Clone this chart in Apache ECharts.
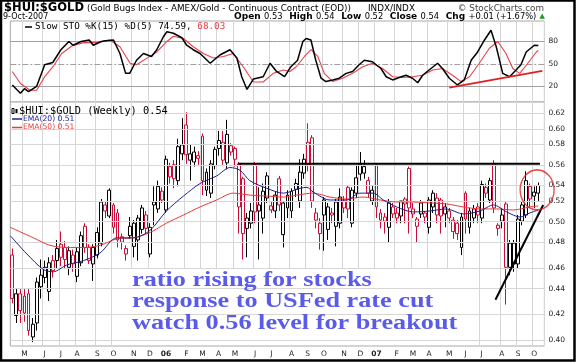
<!DOCTYPE html>
<html><head><meta charset="utf-8">
<script src="https://cdn.jsdelivr.net/npm/echarts@6/dist/echarts.min.js"></script>
<style>html,body{margin:0;padding:0;background:#fff}#c{width:576px;height:362px}</style>
</head><body><div id="c"></div>
<script>
// ---------- data (weekly candles, Apr 11 2005 .. Oct 8 2007) ----------
const firstWeek = '2005-04-11';
const opens = [
.470,.418,.436,.434,.436,.401,.412,.442,.450,.438,
.465,.465,.480,.477,.459,.470,.451,.463,.497,.477,
.462,.470,.481,.518,.507,.518,.510,.487,.471,.488,
.478,.484,.494,.508,.471,.521,.514,.523,.513,.558,
.560,.543,.572,.605,.565,.563,.570,.592,.533,.530,
.559,.578,.585,.562,.574,.578,.561,.545,.495,.500,
.560,.518,.505,.525,.513,.512,.545,.489,.515,.512,
.540,.522,.551,.585,.590,.510,.490,.523,.494,.510,
.497,.500,.515,.536,.500,.530,.561,.558,.543,.522,
.560,.503,.506,.496,.509,.510,.507,.524,.556,.509,
.497,.509,.510,.496,.516,.525,.523,.509,.512,.503,
.500,.477,.530,.496,.505,.516,.505,.530,.523,.561,
.495,.502,.519,.459,.462,.462,.502,.508,.537,.527,
.530];
const highs = [
.476,.440,.440,.440,.440,.416,.450,.466,.465,.468,
.470,.484,.492,.483,.478,.475,.477,.492,.500,.480,
.480,.496,.524,.522,.535,.520,.514,.490,.479,.506,
.503,.508,.518,.512,.500,.537,.543,.536,.570,.562,
.565,.589,.613,.620,.583,.580,.575,.595,.556,.565,
.580,.598,.598,.611,.584,.580,.563,.547,.510,.520,
.563,.536,.540,.552,.522,.532,.548,.522,.533,.535,
.545,.566,.572,.607,.593,.515,.505,.526,.520,.515,
.524,.535,.527,.538,.536,.560,.574,.565,.547,.538,
.562,.514,.510,.524,.520,.515,.522,.526,.558,.520,
.506,.523,.512,.526,.533,.530,.525,.520,.515,.506,
.503,.510,.532,.515,.518,.520,.543,.540,.546,.565,
.500,.515,.521,.484,.484,.508,.521,.553,.540,.537,
.541];
const lows = [
.428,.412,.412,.413,.402,.397,.406,.432,.445,.430,
.450,.458,.460,.458,.452,.455,.446,.460,.472,.462,
.447,.467,.478,.505,.505,.490,.477,.475,.465,.485,
.468,.465,.490,.490,.468,.498,.510,.520,.510,.540,
.535,.537,.565,.561,.543,.558,.560,.528,.527,.525,
.555,.570,.560,.555,.570,.558,.490,.466,.468,.495,
.500,.466,.490,.520,.510,.505,.512,.477,.505,.505,
.526,.515,.545,.553,.515,.495,.475,.474,.484,.500,
.478,.495,.510,.505,.496,.525,.543,.545,.525,.518,
.505,.495,.490,.482,.505,.500,.500,.500,.490,.505,
.482,.505,.500,.490,.510,.500,.490,.496,.500,.485,
.484,.470,.490,.490,.500,.500,.500,.525,.520,.510,
.488,.495,.427,.452,.455,.458,.498,.505,.515,.515,
.522];
const closes = [
.432,.436,.422,.420,.406,.411,.446,.452,.459,.463,
.456,.476,.468,.466,.474,.462,.473,.488,.477,.465,
.477,.491,.521,.512,.533,.496,.484,.482,.476,.497,
.500,.505,.515,.495,.496,.518,.537,.532,.566,.547,
.545,.580,.582,.571,.572,.574,.567,.543,.552,.561,
.577,.587,.565,.594,.581,.566,.516,.490,.505,.512,
.511,.512,.532,.548,.517,.528,.518,.520,.528,.532,
.534,.552,.566,.560,.522,.503,.500,.508,.516,.508,
.521,.526,.522,.514,.533,.546,.550,.551,.530,.533,
.516,.510,.502,.520,.516,.505,.522,.519,.515,.514,
.504,.520,.506,.523,.530,.508,.507,.516,.505,.492,
.490,.506,.504,.512,.514,.508,.539,.536,.543,.515,
.498,.508,.459,.481,.481,.504,.518,.543,.524,.531,
.538];
// moving averages: [week position, value]
const ema20 = [[-0.5,.488],[3.6,.471],[7.7,.457],[10.1,.455],[13.4,.461],[17.6,.465],[21.7,.472],[25.8,.486],[29.9,.486],[34,.493],[38.1,.512],[42.3,.527],[46.4,.540],[50.5,.548],[53.8,.557],[56.3,.554],[58.7,.543],[62.9,.535],[67,.530],[71.1,.535],[72.8,.536],[74.4,.531],[78.5,.523],[82.6,.523],[85.9,.530],[89.2,.530],[91.7,.523],[95,.516],[99.1,.511],[103.2,.512],[107.3,.514],[111.5,.509],[115.6,.512],[118.9,.518],[122.2,.511],[125.5,.506],[127.9,.510],[130,.513]];
const ema50 = [[-0.5,.496],[5.2,.486],[9.3,.479],[13.4,.477],[17.6,.477],[21.7,.479],[25.8,.485],[29.9,.486],[34,.491],[38.1,.500],[42.3,.508],[46.4,.516],[50.5,.523],[54.6,.530],[58.7,.528],[62.9,.527],[67,.526],[70.3,.528],[74.4,.530],[78.5,.526],[82.6,.524],[86.7,.526],[90.9,.523],[95,.521],[99.1,.521],[103.2,.520],[107.3,.519],[111.5,.516],[115.6,.514],[119.7,.514],[123.8,.513],[127.9,.516],[130,.517]];
// slow stochastics: [week position, value]
const stoK = [[0,22],[2,11],[3,17],[4,13],[6,20],[8,49],[10,52],[12,69],[14,80],[15,75],[17,80],[19,82],[20,75],[22,80],[23,81],[25,82],[26.6,64],[28,37.5],[29,37.5],[30.7,55],[32.4,64],[34.4,60],[35.7,69],[37.3,86],[38.2,93],[39.8,91],[41.9,85],[43.1,75],[44.7,69],[46.4,64],[48.9,51],[51.3,62],[53.8,69],[55.5,58],[56.7,33],[58,16],[59.6,30],[62,33],[63.7,51],[65.3,40],[67.3,33],[68.8,46],[70.5,55],[71.8,80],[72.6,84],[73.8,82],[75,55],[76.3,31],[77.5,26.5],[79.2,28.7],[80.8,31],[82.5,37.5],[84.1,40],[85.7,49],[87,55],[89,53],[91.1,44],[92.4,33],[94,28.7],[95.6,32],[97.3,35],[98.9,31],[100.2,25],[101.4,35],[103,42],[105.1,51],[106.3,44],[108,31],[110,22],[111.7,28.7],[113.4,55],[115,66],[116.7,82],[118.3,95],[119.6,73],[121.2,37.5],[122.9,33],[124.5,42],[125.7,49],[127,66],[129,75],[130,74.59]];
const stoD = [[0,40],[2,24],[4.4,15],[6,15],[8,33],[10,46],[12.2,64],[14.7,74],[17.6,78.5],[20.9,78.5],[24.1,82],[26.6,73],[29.1,51],[30.7,49],[33.2,57.5],[35.7,66],[38.2,80],[39.8,87],[42.3,84],[44.7,73],[47.2,64],[49.7,58],[52.2,60],[54.6,64],[57.1,46],[59.6,26],[62,26],[64.5,37.5],[67,42],[68.6,40],[70.1,46],[72.2,60],[73.8,69],[75.5,60],[77.1,37.5],[79.2,26.5],[81.6,31],[84.1,37.5],[86.5,46],[89,51],[91.5,44],[94,33],[96.5,32],[98.9,33],[101.4,35],[103.9,42],[106.3,44],[108.8,35],[110.9,26.5],[113,33],[115.4,51],[117.9,71],[120,80],[122,64],[123.7,44],[125.4,37.5],[127.4,51],[129.5,66],[130,68.03]];
// annotations drawn on the chart
const resistance = [[55.8,0.561],[130.4,0.561]];
const riseLine = [[119.4,0.431],[131.2,0.518]];
const stoTrend = [[108,18.4],[131,40.7]];
const circleMark = [129.7,0.5334];
// tick labels
const priceTicks = [0.40,0.42,0.44,0.46,0.48,0.50,0.52,0.54,0.56,0.58,0.60,0.62];
const stoTicks = [80,50,20];
const monthInitials = ['J','F','M','A','M','J','J','A','S','O','N','D'];
const noteLines = ['ratio rising for stocks','response to USFed rate cut','watch 0.56 level for breakout'];

// ---------- build ----------
const L = Math.log;
const BLACK = '#000', RED = '#cc0c36';
const cats = [];
const d0 = new Date(firstWeek + 'T00:00:00Z');
for (let i = 0; i < opens.length + 1; i++) {
  cats.push(new Date(d0.getTime() + i * 7 * 86400000).toISOString().slice(0, 10));
}
const isMonthStart = (idx, val) => +String(val).slice(8, 10) <= 7;
const candleData = opens.map((o, i) => {
  const prev = i > 0 ? closes[i - 1] : o;
  const col = closes[i] >= prev ? BLACK : RED;
  return { value: [L(o), L(closes[i]), L(lows[i]), L(highs[i])],
    itemStyle: { color: '#fff', color0: col, borderColor: col, borderColor0: col, borderWidth: 1 } };
});
const lnPts = arr => arr.map(p => [p[0], L(p[1])]);
const AX_FONT = { fontSize: 7.5, fontFamily: 'DejaVu Sans', color: '#222' };
const gridLineLabel = Object.assign({ show: true, position: 'end', distance: 4 }, AX_FONT);

const chart = echarts.init(document.getElementById('c'));
const option = {
  animation: false,
  backgroundColor: '#fff',
  grid: [
    { left: 10.3, right: 31.6, top: 21, height: 81, show: true, borderColor: '#a8a8a8', borderWidth: 1, backgroundColor: '#fff' },
    { left: 10.3, right: 31.6, top: 102, height: 244, show: true, borderColor: '#a8a8a8', borderWidth: 1, backgroundColor: '#fff' }
  ],
  xAxis: [
    { type: 'category', gridIndex: 0, data: cats, axisLine: { show: false }, axisTick: { show: false }, axisLabel: { show: false },
      splitLine: { show: true, interval: isMonthStart, lineStyle: { color: '#d6d6d6', width: 1 } } },
    { type: 'category', gridIndex: 1, data: cats, axisLine: { show: false }, axisTick: { show: false },
      axisLabel: Object.assign({ show: true, interval: isMonthStart, margin: 4,
        formatter: v => { const m = +v.slice(5, 7); return m === 1 ? '{y|' + v.slice(2, 4) + '}' : monthInitials[m - 1]; },
        rich: { y: Object.assign({ fontWeight: 'bold' }, AX_FONT) } }, AX_FONT),
      splitLine: { show: true, interval: isMonthStart, lineStyle: { color: '#d6d6d6', width: 1 } } },
    { type: 'value', gridIndex: 0, min: -0.5, max: 131.5, show: false },
    { type: 'value', gridIndex: 1, min: -0.5, max: 131.5, show: false }
  ],
  yAxis: [
    { type: 'value', gridIndex: 0, min: -0.7, max: 107.3, show: false },
    { type: 'value', gridIndex: 1, min: L(0.3940), max: L(0.6325), show: false }
  ],
  series: [
    { type: 'line', xAxisIndex: 2, yAxisIndex: 0, data: [[0, 50]], symbol: 'none', lineStyle: { opacity: 0 }, z: 1, silent: true,
      markLine: { silent: true, symbol: 'none', animation: false, label: gridLineLabel,
        lineStyle: { color: '#a0a0a0', width: 1, type: 'solid' },
        data: stoTicks.map(t => ({ yAxis: t, label: { formatter: String(t) },
          lineStyle: t === 50 ? { type: [6, 2, 2, 2], color: '#a0a0a0' } : {} })) } },
    { type: 'line', xAxisIndex: 3, yAxisIndex: 1, data: [[0, L(0.5)]], symbol: 'none', lineStyle: { opacity: 0 }, z: 1, silent: true,
      markLine: { silent: true, symbol: 'none', animation: false, label: gridLineLabel,
        lineStyle: { color: '#d6d6d6', width: 1, type: 'solid' },
        data: priceTicks.map(t => ({ yAxis: L(t), label: { formatter: t.toFixed(2) } })) } },
    { type: 'candlestick', xAxisIndex: 1, yAxisIndex: 1, data: candleData, barWidth: 3.4, z: 4, silent: true },
    { type: 'line', xAxisIndex: 3, yAxisIndex: 1, data: lnPts(ema50), smooth: 0.3, symbol: 'none', z: 5, silent: true,
      lineStyle: { color: '#e83a3a', width: 1 } },
    { type: 'line', xAxisIndex: 3, yAxisIndex: 1, data: lnPts(ema20), smooth: 0.3, symbol: 'none', z: 5, silent: true,
      lineStyle: { color: '#202090', width: 1 } },
    { type: 'line', xAxisIndex: 3, yAxisIndex: 1, data: lnPts(resistance), symbol: 'none', z: 6, silent: true,
      lineStyle: { color: '#000', width: 2 } },
    { type: 'line', xAxisIndex: 3, yAxisIndex: 1, data: lnPts(riseLine), symbol: 'none', z: 6, silent: true,
      lineStyle: { color: '#000', width: 2 } },
    { type: 'scatter', xAxisIndex: 3, yAxisIndex: 1, data: [[circleMark[0], L(circleMark[1])]], symbol: 'circle',
      symbolSize: [34, 40], clip: false, z: 7, silent: true,
      itemStyle: { color: 'rgba(0,0,0,0)', borderColor: '#e02020', borderWidth: 1.5 } },
    { type: 'line', xAxisIndex: 2, yAxisIndex: 0, data: stoD, symbol: 'none', z: 5, silent: true,
      lineStyle: { color: '#e8404a', width: 1.1 } },
    { type: 'line', xAxisIndex: 2, yAxisIndex: 0, data: stoK, symbol: 'none', z: 6, silent: true,
      lineStyle: { color: '#000', width: 1.5 } },
    { type: 'line', xAxisIndex: 2, yAxisIndex: 0, data: stoTrend, symbol: 'none', z: 7, silent: true,
      lineStyle: { color: '#e02020', width: 1.8 } }
  ],
  graphic: [
    { type: 'rect', shape: { x: 126, y: 268, width: 340, height: 77 }, style: { fill: '#fff' }, z: 3, silent: true },
    ...noteLines.map((t, k) => ({ type: 'text', x: 132, y: 270 + k * 21.7, scaleX: 1.28, z: 10, silent: true,
      style: { text: t, font: 'bold 20.5px "Liberation Serif"', fill: '#5b5bea', textVerticalAlign: 'top' } })),
    { type: 'text', x: 4, y: 8, z: 10, style: { text: '$HUI:$GOLD', font: 'bold 11.5px "DejaVu Sans"', fill: '#000', textVerticalAlign: 'middle' } },
    { type: 'text', x: 87, y: 8.5, z: 10, style: { text: '(Gold Bugs Index - AMEX/Gold - Continuous Contract (EOD))', font: '8.8px "DejaVu Sans"', fill: '#000', textVerticalAlign: 'middle' } },
    { type: 'text', x: 368, y: 8.5, z: 10, style: { text: 'INDX/INDX', font: '8.8px "DejaVu Sans"', fill: '#000', textVerticalAlign: 'middle' } },
    { type: 'text', x: 544, y: 8.5, z: 10, style: { text: '© StockCharts.com', font: '8.8px "DejaVu Sans"', fill: '#444', textAlign: 'right', textVerticalAlign: 'middle' } },
    { type: 'text', x: 3, y: 16.5, z: 10, style: { text: '9-Oct-2007', font: '8px "DejaVu Sans"', fill: '#000', textVerticalAlign: 'middle' } },
    { type: 'text', x: 545, y: 16.5, z: 10, style: {
      text: '{b|Open} {n|0.53}  {b|High} {n|0.54}  {b|Low} {n|0.52}  {b|Close} {n|0.54}  {b|Chg} {n|+0.01 (+1.67%)} {g|▲}',
      textAlign: 'right', textVerticalAlign: 'middle',
      rich: { b: { fontFamily: 'DejaVu Sans', fontWeight: 'bold', fontSize: 9, fill: '#000' },
              n: { fontFamily: 'DejaVu Sans', fontSize: 8.3, fill: '#000' },
              g: { fontFamily: 'DejaVu Sans', fontSize: 7, fill: '#1a9a1a' } } } },
    { type: 'line', shape: { x1: 25, y1: 27, x2: 32, y2: 27 }, style: { stroke: '#000', lineWidth: 1.5 }, z: 10 },
    { type: 'text', x: 35, y: 27, z: 10, style: { text: '{k|Slow STO %K(15) %D(5) 74.59, }{d|68.03}', textVerticalAlign: 'middle',
      rich: { k: { fontFamily: 'DejaVu Sans Mono', fontSize: 9.3, fill: '#000' }, d: { fontFamily: 'DejaVu Sans Mono', fontSize: 9.3, fill: '#e8404a' } } } },
    { type: 'rect', shape: { x: 12, y: 108.5, width: 2, height: 5 }, style: { fill: '#fff', stroke: '#000', lineWidth: 1 }, z: 10 },
    { type: 'rect', shape: { x: 15.5, y: 109, width: 2, height: 4 }, style: { fill: '#000' }, z: 10 },
    { type: 'text', x: 19, y: 111, z: 10, style: { text: '$HUI:$GOLD (Weekly) 0.54', font: '10.3px "DejaVu Sans Mono"', fill: '#000', textVerticalAlign: 'middle' } },
    { type: 'line', shape: { x1: 12, y1: 119, x2: 22, y2: 119 }, style: { stroke: '#202090', lineWidth: 1.5 }, z: 10 },
    { type: 'text', x: 23, y: 119, z: 10, style: { text: 'EMA(20) 0.51', font: '7.6px "DejaVu Sans"', fill: '#202090', textVerticalAlign: 'middle' } },
    { type: 'line', shape: { x1: 12, y1: 127.5, x2: 22, y2: 127.5 }, style: { stroke: '#e83a3a', lineWidth: 1.5 }, z: 10 },
    { type: 'text', x: 23, y: 127.5, z: 10, style: { text: 'EMA(50) 0.51', font: '7.6px "DejaVu Sans"', fill: '#e83a3a', textVerticalAlign: 'middle' } },
    { type: 'rect', shape: { x: 1, y: 0.5, width: 573.5, height: 360 }, style: { fill: 'none', stroke: '#000', lineWidth: 2.5 }, z: 20, silent: true }
  ]
};
chart.setOption(option);
</script>
</body></html>
